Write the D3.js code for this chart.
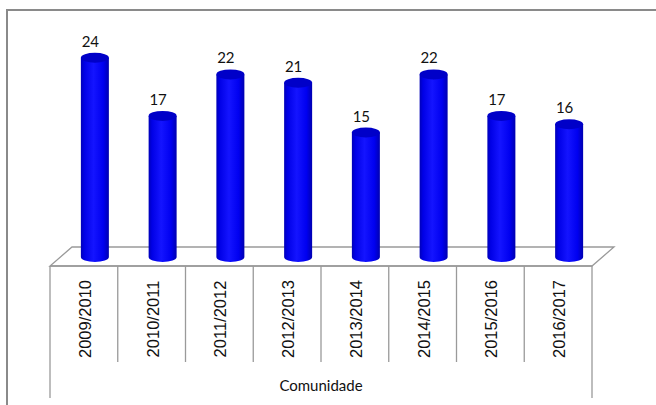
<!DOCTYPE html>
<html><head><meta charset="utf-8">
<script src="https://cdn.jsdelivr.net/npm/d3@7"></script>
<style>body{margin:0;background:#fff}svg{display:block}</style>
</head><body>
<script>
const categories = ["2009/2010","2010/2011","2011/2012","2012/2013","2013/2014","2014/2015","2015/2016","2016/2017"];
const values = [24,17,22,21,15,22,17,16];
const axisTitle = "Comunidade";

const W = 656, H = 405;
const svg = d3.select("body").append("svg").attr("width", W).attr("height", H);

// outer border
svg.append("rect").attr("x",7).attr("y",10).attr("width",700).attr("height",450)
  .attr("fill","none").attr("stroke","#8a8a8a").attr("stroke-width",2);

const x = d3.scaleBand().domain(categories).range([50,592]).padding(0);
const y = d3.scaleLinear().domain([0,30]).range([257, 257 - 30*8.3]);
const dx = 22, dy = -19; // depth
const floorY = 266;

// floor
svg.append("path")
  .attr("d", `M50,${floorY} L592,${floorY} L${592+dx},${floorY+dy} L${50+dx},${floorY+dy} Z`)
  .attr("fill","#fff").attr("stroke","#9a9a9a").attr("stroke-width",1.3);

// gradient
const defs = svg.append("defs");
const g = defs.append("linearGradient").attr("id","cyl").attr("x1","0").attr("x2","1").attr("y1","0").attr("y2","0");
[[0,"#0000b8"],[0.12,"#0000e6"],[0.45,"#1414ff"],[0.8,"#0000f0"],[1,"#0000b0"]].forEach(([o,c])=>
  g.append("stop").attr("offset",o).attr("stop-color",c));

const rx = 14, ry = 5;
const bars = svg.append("g").selectAll("g").data(categories).join("g");
bars.each(function(c,i){
  const cx = x(c) + x.bandwidth()/2 + dx/2;
  const yb = y(0) + 0;
  const yt = y(values[i]);
  const s = d3.select(this);
  s.append("path")
    .attr("d", `M${cx-rx},${yt} L${cx-rx},${yb} A${rx},${ry} 0 0 0 ${cx+rx},${yb} L${cx+rx},${yt} Z`)
    .attr("fill","url(#cyl)");
  s.append("ellipse").attr("cx",cx).attr("cy",yt).attr("rx",rx).attr("ry",ry)
    .attr("fill","#0000c8");
  s.append("text").attr("x",cx-4.5).attr("y",yt-11)
    .attr("text-anchor","middle").attr("font-family","Lato, 'Open Sans', sans-serif")
    .attr("font-size",15).attr("fill","#111").text(values[i]);
});

// axis category table
const ax = svg.append("g").attr("stroke","#9a9a9a").attr("stroke-width",1.3);
ax.append("line").attr("x1",50).attr("x2",592).attr("y1",floorY).attr("y2",floorY);
const edges = categories.map(c=>x(c)).concat([x.range()[1]]);
edges.forEach((e,i)=>{
  const outer = (i===0 || i===edges.length-1);
  ax.append("line").attr("x1",e).attr("x2",e).attr("y1",floorY).attr("y2", outer ? 398 : 362);
});

svg.append("g").selectAll("text").data(categories).join("text")
  .attr("transform", c=>`translate(${x(c)+x.bandwidth()/2+7},319) rotate(-90)`)
  .attr("text-anchor","middle")
  .attr("font-family","'Liberation Sans', Arial, sans-serif").attr("font-size",16.5).attr("fill","#111")
  .text(c=>c);

svg.append("text").attr("x",321).attr("y",391).attr("text-anchor","middle")
  .attr("font-family","Lato, 'Open Sans', sans-serif").attr("font-size",15).attr("fill","#111")
  .text(axisTitle);
</script>
</body></html>
